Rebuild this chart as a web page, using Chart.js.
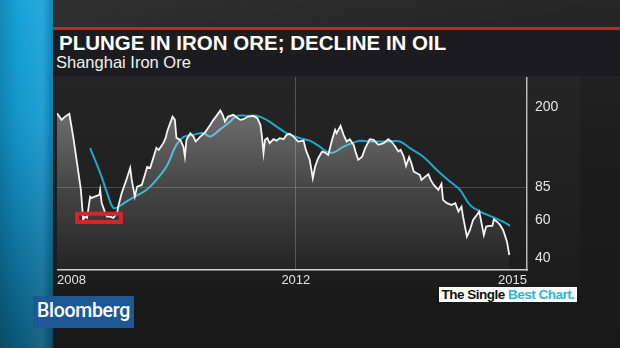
<!DOCTYPE html>
<html>
<head>
<meta charset="utf-8">
<script src="https://cdn.jsdelivr.net/npm/chart.js@4.4.0/dist/chart.umd.min.js"></script>
<style>
  html, body { margin: 0; padding: 0; }
  body {
    width: 620px; height: 348px; overflow: hidden; position: relative;
    font-family: 'Liberation Sans', Arial, sans-serif;
    background:
      linear-gradient(155deg, rgba(255,255,255,0.05) 0%, rgba(255,255,255,0) 45%),
      linear-gradient(180deg, #262626 0%, #1d1d1d 40%, #181818 100%);
  }
  #band {
    position: absolute; left: 0; top: 0; width: 53px; height: 348px;
    background:
      linear-gradient(90deg, rgba(0,0,0,0.15) 0%, rgba(0,0,0,0) 35%, rgba(255,255,255,0.07) 80%, rgba(0,0,0,0.18) 100%),
      linear-gradient(180deg, #17a3d9 0%, #1397cc 35%, #0f7aa8 65%, #0b5878 100%);
  }
  #redline { position: absolute; left: 53px; top: 27px; width: 567px; height: 2.5px; background: #c4262b; }
  #head { position: absolute; left: 53px; top: 29.5px; width: 567px; height: 46px; background: #1c1c1e; }
  #title {
    position: absolute; left: 59px; top: 33px; font-size: 20.5px; line-height: 20px;
    font-weight: bold; color: #ffffff; white-space: nowrap;
  }
  #subtitle {
    position: absolute; left: 56px; top: 54px; font-size: 16.5px; line-height: 17px;
    color: #f0f0f0; white-space: nowrap;
  }
  #panel {
    position: absolute; left: 53px; top: 75.5px; width: 527px; height: 212px;
    background: linear-gradient(180deg, #252525 0%, #202020 60%, #1c1c1c 100%);
  }
  #chart { position: absolute; left: 57px; top: 77px; }
  #logo {
    position: absolute; left: 33px; top: 296px; width: 101px; height: 32px;
    background: #1d5895; color: #ffffff; font-family: Roboto, 'Liberation Sans', sans-serif;
    font-weight: 500; font-size: 19.5px; line-height: 30px; text-align: center; letter-spacing: -0.3px;
  }
  #tag {
    position: absolute; left: 439px; top: 287px; width: 138px; height: 14.5px;
    background: #ffffff; font-weight: bold; font-size: 13.5px; line-height: 15px;
    letter-spacing: -0.5px; text-align: center; white-space: nowrap; color: #111111;
  }
  #tag span { color: #2cb4e0; }
</style>
</head>
<body>
<div id="band"></div>
<div id="redline"></div>
<div id="head"></div>
<div id="title">PLUNGE IN IRON ORE; DECLINE IN OIL</div>
<div id="subtitle">Shanghai Iron Ore</div>
<div id="panel"></div>
<canvas id="chart" width="563" height="223"></canvas>
<div id="logo">Bloomberg</div>
<div id="tag">The Single <span>Best Chart.</span></div>
<script>
// Shanghai iron ore price (decimal year, price)
const oreYears = [
  2008.90, 2008.96, 2009.00, 2009.06, 2009.11, 2009.16, 2009.21, 2009.24, 2009.26, 2009.29,
  2009.33, 2009.35, 2009.39, 2009.45, 2009.46, 2009.48, 2009.52, 2009.55, 2009.59, 2009.63,
  2009.68, 2009.70, 2009.74, 2009.80, 2009.85, 2009.87, 2009.91, 2009.94, 2010.00, 2010.04,
  2010.07, 2010.11, 2010.15, 2010.19, 2010.22, 2010.25, 2010.28, 2010.31, 2010.33, 2010.37,
  2010.40, 2010.43, 2010.45, 2010.50, 2010.54, 2010.56, 2010.58, 2010.63, 2010.67, 2010.70,
  2010.76, 2010.82, 2010.89, 2010.93, 2010.97, 2011.02, 2011.05, 2011.08, 2011.12, 2011.19,
  2011.23, 2011.28, 2011.32, 2011.38, 2011.45, 2011.50, 2011.54, 2011.56, 2011.58, 2011.60,
  2011.63, 2011.66, 2011.71, 2011.75, 2011.79, 2011.84, 2011.88, 2011.92, 2011.97, 2012.03,
  2012.10, 2012.13, 2012.18, 2012.22, 2012.25, 2012.29, 2012.34, 2012.38, 2012.42, 2012.47,
  2012.51, 2012.53, 2012.58, 2012.62, 2012.66, 2012.70, 2012.75, 2012.78, 2012.81, 2012.86,
  2012.90, 2012.96, 2013.01, 2013.07, 2013.14, 2013.20, 2013.24, 2013.29, 2013.33, 2013.36,
  2013.40, 2013.43, 2013.47, 2013.50, 2013.53, 2013.57, 2013.61, 2013.63, 2013.68, 2013.72,
  2013.75, 2013.79, 2013.85, 2013.89, 2013.91, 2013.96, 2014.02, 2014.07, 2014.11, 2014.15,
  2014.17, 2014.22, 2014.26, 2014.30, 2014.35, 2014.38, 2014.41, 2014.44, 2014.47, 2014.51,
  2014.55, 2014.57, 2014.61, 2014.65, 2014.69, 2014.74, 2014.77
];
const orePrice = [
  187.1, 174.2, 179.9, 185.7, 145.8, 110.2, 82.6, 60.0, 62.1, 61.3,
  76.9, 75.9, 76.9, 78.3, 82.6, 71.9, 65.6, 62.1, 62.1, 61.3,
  64.7, 70.4, 80.0, 91.9, 104.5, 91.9, 76.9, 85.6, 87.1, 96.9,
  105.6, 104.5, 116.2, 129.3, 126.5, 131.1, 135.9, 143.8, 153.8, 168.7,
  180.4, 174.2, 143.8, 140.8, 131.1, 117.8, 140.8, 151.2, 145.8, 138.3,
  145.8, 152.2, 165.2, 174.2, 181.8, 192.4, 183.8, 171.1, 180.4, 183.8,
  179.3, 174.2, 175.5, 180.4, 181.8, 177.4, 165.2, 145.8, 122.2, 140.8,
  143.4, 135.9, 141.8, 139.7, 143.4, 141.8, 148.5, 150.1, 145.8, 138.3,
  139.7, 126.5, 113.8, 93.6, 105.9, 115.8, 124.3, 123.0, 120.0, 140.8,
  156.6, 151.2, 163.5, 148.5, 138.3, 141.8, 133.5, 122.2, 113.8, 117.8,
  128.8, 141.8, 140.8, 133.5, 135.9, 141.8, 138.3, 131.1, 124.3, 126.5,
  117.8, 106.7, 117.1, 109.8, 100.4, 98.7, 96.9, 91.9, 95.2, 97.6,
  91.9, 87.1, 82.6, 88.1, 74.3, 71.7, 70.4, 71.7, 65.6, 69.1,
  62.1, 50.2, 53.9, 60.0, 63.3, 65.6, 57.9, 51.1, 55.9, 56.3,
  56.3, 60.4, 58.9, 56.9, 53.9, 47.6, 41.3
];

// moving average (blue line)
const avgYears = [
  2009.33, 2009.46, 2009.55, 2009.63, 2009.70, 2009.80, 2009.91, 2010.06, 2010.19, 2010.32,
  2010.45, 2010.54, 2010.67, 2010.80, 2010.89, 2011.02, 2011.15, 2011.23, 2011.36, 2011.49,
  2011.62, 2011.75, 2011.88, 2012.05, 2012.18, 2012.31, 2012.40, 2012.49, 2012.62, 2012.75,
  2012.83, 2013.01, 2013.18, 2013.35, 2013.48, 2013.65, 2013.83, 2014.00, 2014.13, 2014.26,
  2014.39, 2014.56, 2014.69, 2014.78
];
const avgPrice = [
  128.8, 99.0, 80.0, 68.2, 69.1, 72.9, 76.9, 82.6, 91.9, 105.9,
  133.5, 144.9, 148.5, 151.2, 145.8, 157.8, 171.1, 181.8, 181.8, 181.8,
  174.2, 162.2, 151.2, 143.4, 139.7, 131.1, 124.3, 123.0, 131.1, 136.7,
  139.3, 138.3, 138.3, 138.3, 128.8, 117.8, 102.2, 90.3, 82.6, 70.4,
  65.6, 61.8, 58.9, 56.3
];

const xTickValues = [2008.9, 2012, 2015];
const xTickLabels = ['2008', '2012', '2015'];
const yTickValues = [40, 60, 85, 200];

// red highlight around the 2009 low
const boxYears = [2009.16, 2009.73];
const boxPrices = [58.7, 64.1];

const toPoints = (xs, ys) => xs.map((x, i) => ({ x, y: ys[i] }));

function fillGradient(context) {
  const { ctx, chartArea } = context.chart;
  if (!chartArea) return 'rgba(255,255,255,0.2)';
  const g = ctx.createLinearGradient(0, chartArea.top, 0, chartArea.bottom);
  g.addColorStop(0, 'rgba(255,255,255,0.40)');
  g.addColorStop(0.25, 'rgba(255,255,255,0.31)');
  g.addColorStop(0.57, 'rgba(255,255,255,0.17)');
  g.addColorStop(1, 'rgba(255,255,255,0.03)');
  return g;
}

const highlightBox = {
  id: 'highlightBox',
  afterDatasetsDraw(chart) {
    const { ctx, scales: { x, y } } = chart;
    const left = x.getPixelForValue(boxYears[0]);
    const right = x.getPixelForValue(boxYears[1]);
    const top = y.getPixelForValue(boxPrices[1]);
    const bottom = y.getPixelForValue(boxPrices[0]);
    ctx.save();
    ctx.strokeStyle = '#d3252c';
    ctx.lineWidth = 4;
    ctx.strokeRect(left, top, right - left, bottom - top);
    ctx.restore();
  }
};

Chart.defaults.font.family = "'Liberation Sans', Arial, sans-serif";

new Chart(document.getElementById('chart').getContext('2d'), {
  type: 'line',
  data: {
    datasets: [
      {
        data: toPoints(oreYears, orePrice),
        borderColor: '#f4f4f4',
        borderWidth: 1.8,
        pointRadius: 0,
        tension: 0,
        fill: 'start',
        backgroundColor: fillGradient
      },
      {
        data: toPoints(avgYears, avgPrice),
        borderColor: '#1ea9cb',
        borderWidth: 2,
        pointRadius: 0,
        tension: 0.35,
        fill: false
      }
    ]
  },
  options: {
    responsive: false,
    devicePixelRatio: 1,
    animation: false,
    layout: { padding: 0 },
    plugins: { legend: { display: false }, tooltip: { enabled: false } },
    scales: {
      x: {
        type: 'linear',
        min: 2008.9,
        max: 2015,
        afterBuildTicks: (axis) => { axis.ticks = xTickValues.map(v => ({ value: v })); },
        afterFit: (axis) => { axis.height = 30; axis.paddingLeft = 0; axis.paddingRight = 0; },
        grid: {
          drawTicks: false,
          color: (c) => (c.tick && c.tick.value === 2012 ? 'rgba(255,255,255,0.22)' : 'rgba(0,0,0,0)')
        },
        border: { color: '#cfcfcf', width: 1.5 },
        ticks: {
          align: 'inner',
          padding: 3,
          color: '#e2e2e2',
          font: { size: 13 },
          maxRotation: 0,
          autoSkip: false,
          callback: (v, i) => xTickLabels[i]
        }
      },
      y: {
        type: 'logarithmic',
        position: 'right',
        min: 35.2,
        max: 275,
        afterBuildTicks: (axis) => { axis.ticks = yTickValues.map(v => ({ value: v })); },
        afterFit: (axis) => { axis.width = 93; axis.paddingTop = 0; axis.paddingBottom = 0; },
        grid: {
          drawTicks: false,
          color: (c) => (c.tick && c.tick.value === 85 ? 'rgba(255,255,255,0.18)' : 'rgba(0,0,0,0)')
        },
        border: { color: '#b8b8b8', width: 1.5 },
        ticks: {
          padding: 8,
          color: '#e6e6e6',
          font: { size: 14 },
          callback: (v) => String(v)
        }
      }
    }
  },
  plugins: [highlightBox]
});
</script>
</body>
</html>
